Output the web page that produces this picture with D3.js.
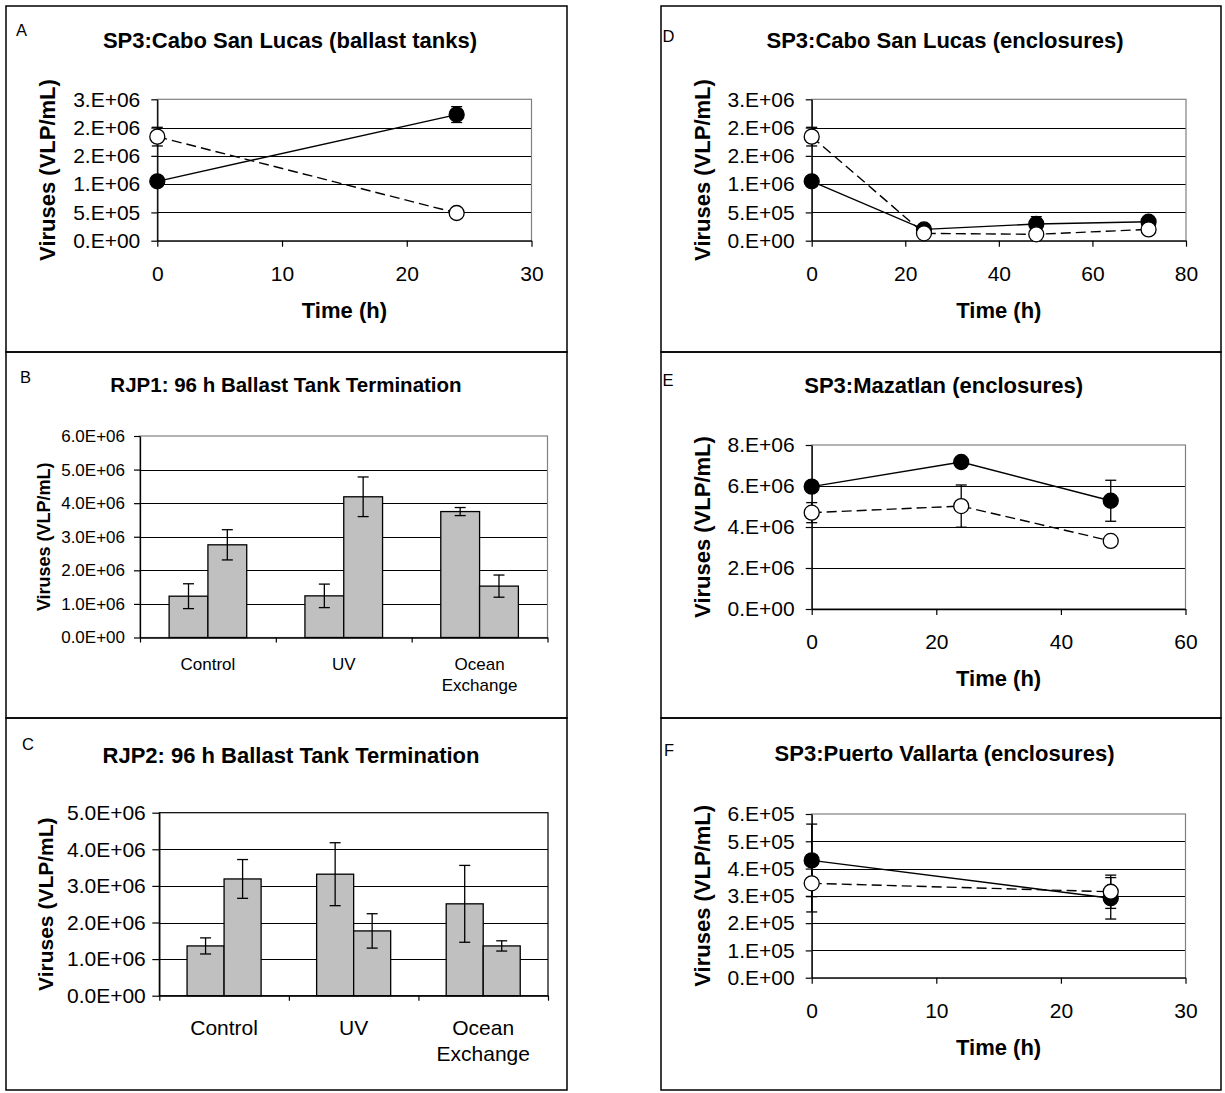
<!DOCTYPE html>
<html>
<head>
<meta charset="utf-8">
<script src="https://cdn.jsdelivr.net/npm/d3@7"></script>
<style>
  body { margin: 0; background: #fff; }
  svg { display: block; }
  text { font-family: "Liberation Sans", Arial, sans-serif; fill: #000; }
</style>
</head>
<body>
<svg id="fig" width="1225" height="1093"></svg>
<script>
// ---------- Data ----------
// A: SP3 Cabo San Lucas, ballast tanks
const aTime = [0, 24];
const aFilled = [1.05e6, 2.23e6];
const aFilledErr = [0.05e6, 0.14e6];
const aOpen = [1.84e6, 0.49e6];
const aOpenErr = [0.165e6, 0.05e6];
const aXTicks = [0, 10, 20, 30];
const aYTicks = [0, 5e5, 1e6, 1.5e6, 2e6, 2.5e6];
const aYLabels = ["0.E+00", "5.E+05", "1.E+06", "2.E+06", "2.E+06", "3.E+06"];

// D: SP3 Cabo San Lucas, enclosures
const dTime = [0, 24, 48, 72];
const dFilled = [1.05e6, 0.20e6, 0.295e6, 0.335e6];
const dFilledErr = [0.05e6, 0.03e6, 0.13e6, 0.04e6];
const dOpen = [1.84e6, 0.13e6, 0.113e6, 0.20e6];
const dOpenErr = [0.165e6, 0.03e6, 0.03e6, 0.04e6];
const dXTicks = [0, 20, 40, 60, 80];
const dYTicks = [0, 5e5, 1e6, 1.5e6, 2e6, 2.5e6];
const dYLabels = ["0.E+00", "5.E+05", "1.E+06", "2.E+06", "2.E+06", "3.E+06"];

// E: SP3 Mazatlan, enclosures
const eTime = [0, 24, 48];
const eFilled = [5.97e6, 7.17e6, 5.28e6];
const eFilledErr = [0.15e6, 0.2e6, 1.0e6];
const eOpen = [4.70e6, 5.02e6, 3.32e6];
const eOpenErr = [0.49e6, 1.03e6, 0.2e6];
const eXTicks = [0, 20, 40, 60];
const eYTicks = [0, 2e6, 4e6, 6e6, 8e6];
const eYLabels = ["0.E+00", "2.E+06", "4.E+06", "6.E+06", "8.E+06"];

// F: SP3 Puerto Vallarta, enclosures
const fTime = [0, 24];
const fFilled = [4.30e5, 2.91e5];
const fFilledErr = [1.33e5, 0.76e5];
const fOpen = [3.46e5, 3.15e5];
const fOpenErr = [1.05e5, 0.61e5];
const fXTicks = [0, 10, 20, 30];
const fYTicks = [0, 1e5, 2e5, 3e5, 4e5, 5e5, 6e5];
const fYLabels = ["0.E+00", "1.E+05", "2.E+05", "3.E+05", "4.E+05", "5.E+05", "6.E+05"];

// B: RJP1 96 h ballast tank termination
const treatments = ["Control", "UV", "Ocean\nExchange"];
const bFirst = [1.23e6, 1.24e6, 3.75e6];
const bFirstErr = [0.37e6, 0.35e6, 0.12e6];
const bSecond = [2.76e6, 4.19e6, 1.53e6];
const bSecondErr = [0.45e6, 0.59e6, 0.33e6];
const bYTicks = [0, 1e6, 2e6, 3e6, 4e6, 5e6, 6e6];
const bYLabels = ["0.0E+00", "1.0E+06", "2.0E+06", "3.0E+06", "4.0E+06", "5.0E+06", "6.0E+06"];

// C: RJP2 96 h ballast tank termination
const cFirst = [1.36e6, 3.32e6, 2.51e6];
const cFirstErr = [0.22e6, 0.86e6, 1.05e6];
const cSecond = [3.19e6, 1.77e6, 1.36e6];
const cSecondErr = [0.53e6, 0.47e6, 0.14e6];
const cYTicks = [0, 1e6, 2e6, 3e6, 4e6, 5e6];
const cYLabels = ["0.0E+00", "1.0E+06", "2.0E+06", "3.0E+06", "4.0E+06", "5.0E+06"];

// ---------- Drawing ----------
const FONT = '"Liberation Sans", Arial, sans-serif';
const svg = d3.select("#fig");
svg.append("rect").attr("width", 1225).attr("height", 1093).attr("fill", "#fff");

function drawFrame(p) {
  const [x0, y0, x1, y1] = p.box;
  svg.append("rect")
    .attr("x", x0).attr("y", y0).attr("width", x1 - x0).attr("height", y1 - y0)
    .attr("fill", "none").attr("stroke", "#000").attr("stroke-width", 1.5);
  svg.append("text")
    .attr("x", p.letterX).attr("y", y0 + p.letterDy)
    .attr("font-size", 16.5).text(p.letter);
  svg.append("text")
    .attr("x", p.titleX).attr("y", y0 + p.titleDy)
    .attr("text-anchor", "middle").attr("font-weight", "bold")
    .attr("font-size", p.titleSize).text(p.title);
}

function styleAxis(sel, size) {
  sel.attr("font-family", FONT).attr("font-size", size);
  sel.selectAll("path.domain").attr("stroke", "#000").attr("stroke-width", 1.3);
  sel.selectAll(".tick line").attr("stroke", "#000").attr("stroke-width", 1.2);
  sel.selectAll(".tick text").attr("fill", "#000");
}

function grid(g, p, y, l, r) {
  const lo = p.yTicks[0], hi = p.yTicks[p.yTicks.length - 1];
  g.selectAll("line.grid")
    .data(p.yTicks.filter(v => v > lo && v < hi))
    .join("line").attr("class", "grid")
    .attr("x1", l).attr("x2", r)
    .attr("y1", d => Math.round(y(d)) + 0.5).attr("y2", d => Math.round(y(d)) + 0.5)
    .attr("stroke", "#000").attr("stroke-width", 1);
}

function yTitle(x, yc, size) {
  svg.append("text")
    .attr("transform", `translate(${x},${yc}) rotate(-90)`)
    .attr("text-anchor", "middle").attr("font-weight", "bold")
    .attr("font-size", size).text("Viruses (VLP/mL)");
}

function errorBars(g, pts, xf, yf, cap) {
  const eb = g.append("g").attr("stroke", "#000").attr("stroke-width", 1.3);
  pts.forEach(d => {
    const cx = xf(d), top = yf(d.v + d.e), bot = yf(d.v - d.e);
    eb.append("line").attr("x1", cx).attr("x2", cx).attr("y1", top).attr("y2", bot);
    eb.append("line").attr("x1", cx - cap).attr("x2", cx + cap).attr("y1", top).attr("y2", top);
    eb.append("line").attr("x1", cx - cap).attr("x2", cx + cap).attr("y1", bot).attr("y2", bot);
  });
}

function drawLinePanel(p) {
  drawFrame(p);
  const [l, t, r, b] = p.plot;
  const x = d3.scaleLinear().domain([p.xTicks[0], p.xTicks[p.xTicks.length - 1]]).range([l, r]);
  const y = d3.scaleLinear().domain([p.yTicks[0], p.yTicks[p.yTicks.length - 1]]).range([b, t]);
  const g = svg.append("g");
  grid(g, p, y, l, r);
  g.append("rect").attr("x", l).attr("y", t).attr("width", r - l).attr("height", b - t)
    .attr("fill", "none").attr("stroke", "#808080").attr("stroke-width", 1.2);

  g.append("g").attr("transform", `translate(${l},0)`)
    .call(d3.axisLeft(y).tickValues(p.yTicks).tickFormat((d, i) => p.yLabels[i])
      .tickSize(6).tickSizeOuter(0).tickPadding(11))
    .call(s => styleAxis(s, 21));
  g.append("g").attr("transform", `translate(0,${b})`)
    .call(d3.axisBottom(x).tickValues(p.xTicks).tickFormat(d3.format("d"))
      .tickSize(6).tickSizeOuter(0).tickPadding(19))
    .call(s => styleAxis(s, 21));

  yTitle(p.box[0] + 48.5, (t + b) / 2, 22);
  svg.append("text").attr("x", (l + r) / 2).attr("y", b + 77)
    .attr("text-anchor", "middle").attr("font-weight", "bold").attr("font-size", 22)
    .text("Time (h)");

  const line = d3.line().x(d => x(d.t)).y(d => y(d.v));
  p.series.forEach(s => {
    const pts = s.time.map((tt, i) => ({ t: tt, v: s.values[i], e: s.err[i] }));
    g.append("path").datum(pts).attr("d", line)
      .attr("fill", "none").attr("stroke", "#000").attr("stroke-width", 1.4)
      .attr("stroke-dasharray", s.dashed ? "10,5" : null);
    errorBars(g, pts, d => x(d.t), y, 5.5);
    g.selectAll(null).data(pts).join("circle")
      .attr("cx", d => x(d.t)).attr("cy", d => y(d.v)).attr("r", 7.5)
      .attr("fill", s.filled ? "#000" : "#fff")
      .attr("stroke", "#000").attr("stroke-width", 1.3);
  });
}

function drawBarPanel(p) {
  drawFrame(p);
  const [l, t, r, b] = p.plot;
  const xc = d3.scaleBand().domain(p.categories).range([l, r]);
  const xs = d3.scaleBand().domain(d3.range(p.series.length))
    .range([0, xc.bandwidth()]).paddingInner(0).paddingOuter(0.75);
  const y = d3.scaleLinear().domain([p.yTicks[0], p.yTicks[p.yTicks.length - 1]]).range([b, t]);
  const g = svg.append("g");
  grid(g, p, y, l, r);
  g.append("rect").attr("x", l).attr("y", t).attr("width", r - l).attr("height", b - t)
    .attr("fill", "none").attr("stroke", p.frameColor).attr("stroke-width", 1.2);

  // bars, then their error bars
  p.series.forEach((s, si) => {
    const pts = p.categories.map((c, i) => ({ c, v: s.values[i], e: s.err[i] }));
    g.selectAll(null).data(pts).join("rect")
      .attr("x", d => xc(d.c) + xs(si)).attr("width", xs.bandwidth())
      .attr("y", d => y(d.v)).attr("height", d => b - y(d.v))
      .attr("fill", "#c0c0c0").attr("stroke", "#000").attr("stroke-width", 1.3);
  });
  p.series.forEach((s, si) => {
    const pts = p.categories.map((c, i) => ({ c, v: s.values[i], e: s.err[i] }));
    errorBars(g, pts, d => xc(d.c) + xs(si) + xs.bandwidth() / 2, y, 5.5);
  });

  // axes
  g.append("g").attr("transform", `translate(${l},0)`)
    .call(d3.axisLeft(y).tickValues(p.yTicks).tickFormat((d, i) => p.yLabels[i])
      .tickSize(p.yTickSize).tickSizeOuter(0).tickPadding(p.yTickPad))
    .call(s => styleAxis(s, p.tickSize));
  const edges = d3.scaleLinear().domain([0, p.categories.length]).range([l, r]);
  g.append("g").attr("transform", `translate(0,${b})`)
    .call(d3.axisBottom(edges).tickValues(d3.range(p.categories.length + 1))
      .tickFormat("").tickSize(5).tickSizeOuter(0))
    .call(s => styleAxis(s, p.tickSize));
  const labels = g.append("g").attr("transform", `translate(0,${b})`)
    .call(d3.axisBottom(xc).tickSize(0).tickPadding(p.catPad))
    .call(s => styleAxis(s, p.catSize));
  labels.select("path.domain").remove();
  labels.selectAll(".tick text").each(function (d) {
    const el = d3.select(this).attr("dy", null).text(null);
    d.split("\n").forEach((ln, i) => {
      el.append("tspan").attr("x", 0).attr("dy", i === 0 ? "0.71em" : "1.22em").text(ln);
    });
  });

  yTitle(p.yTitleX, (t + b) / 2, p.yTitleSize);
}

// ---------- Panels ----------
drawLinePanel({
  box: [6, 6, 567, 352], letter: "A", letterX: 16, letterDy: 30,
  title: "SP3:Cabo San Lucas (ballast tanks)", titleX: 290, titleDy: 42, titleSize: 22,
  plot: [157.3, 99.3, 531.5, 240.7],
  xTicks: aXTicks, yTicks: aYTicks, yLabels: aYLabels,
  series: [
    { time: aTime, values: aFilled, err: aFilledErr, filled: true, dashed: false },
    { time: aTime, values: aOpen, err: aOpenErr, filled: false, dashed: true }
  ]
});

drawBarPanel({
  box: [6, 352, 567, 718], letter: "B", letterX: 20, letterDy: 31,
  title: "RJP1: 96 h Ballast Tank Termination", titleX: 286, titleDy: 40, titleSize: 20.5,
  plot: [140, 436, 547.5, 637.5], frameColor: "#808080",
  categories: treatments, yTicks: bYTicks, yLabels: bYLabels,
  yTickSize: 6, yTickPad: 9, tickSize: 17, catSize: 17, catPad: 20.2,
  yTitleX: 49.5, yTitleSize: 18,
  series: [
    { values: bFirst, err: bFirstErr },
    { values: bSecond, err: bSecondErr }
  ]
});

drawBarPanel({
  box: [6, 718, 567, 1090], letter: "C", letterX: 22, letterDy: 32,
  title: "RJP2: 96 h Ballast Tank Termination", titleX: 291, titleDy: 45, titleSize: 22,
  plot: [159.3, 812.7, 548, 995.7], frameColor: "#000",
  categories: treatments, yTicks: cYTicks, yLabels: cYLabels,
  yTickSize: 7, yTickPad: 6.5, tickSize: 21, catSize: 21, catPad: 24.4,
  yTitleX: 53, yTitleSize: 21,
  series: [
    { values: cFirst, err: cFirstErr },
    { values: cSecond, err: cSecondErr }
  ]
});

drawLinePanel({
  box: [661, 6, 1221, 352], letter: "D", letterX: 662.5, letterDy: 36,
  title: "SP3:Cabo San Lucas (enclosures)", titleX: 945, titleDy: 42, titleSize: 22,
  plot: [811.7, 99.3, 1186, 240.7],
  xTicks: dXTicks, yTicks: dYTicks, yLabels: dYLabels,
  series: [
    { time: dTime, values: dFilled, err: dFilledErr, filled: true, dashed: false },
    { time: dTime, values: dOpen, err: dOpenErr, filled: false, dashed: true }
  ]
});

drawLinePanel({
  box: [661, 352, 1221, 718], letter: "E", letterX: 662.5, letterDy: 33.5,
  title: "SP3:Mazatlan (enclosures)", titleX: 943.6, titleDy: 41, titleSize: 22,
  plot: [811.7, 445, 1185.5, 609],
  xTicks: eXTicks, yTicks: eYTicks, yLabels: eYLabels,
  series: [
    { time: eTime, values: eFilled, err: eFilledErr, filled: true, dashed: false },
    { time: eTime, values: eOpen, err: eOpenErr, filled: false, dashed: true }
  ]
});

drawLinePanel({
  box: [661, 718, 1221, 1090], letter: "F", letterX: 664, letterDy: 37.5,
  title: "SP3:Puerto Vallarta (enclosures)", titleX: 944.5, titleDy: 43, titleSize: 22,
  plot: [811.7, 814, 1185.5, 977.7],
  xTicks: fXTicks, yTicks: fYTicks, yLabels: fYLabels,
  series: [
    { time: fTime, values: fFilled, err: fFilledErr, filled: true, dashed: false },
    { time: fTime, values: fOpen, err: fOpenErr, filled: false, dashed: true }
  ]
});
</script>
</body>
</html>
